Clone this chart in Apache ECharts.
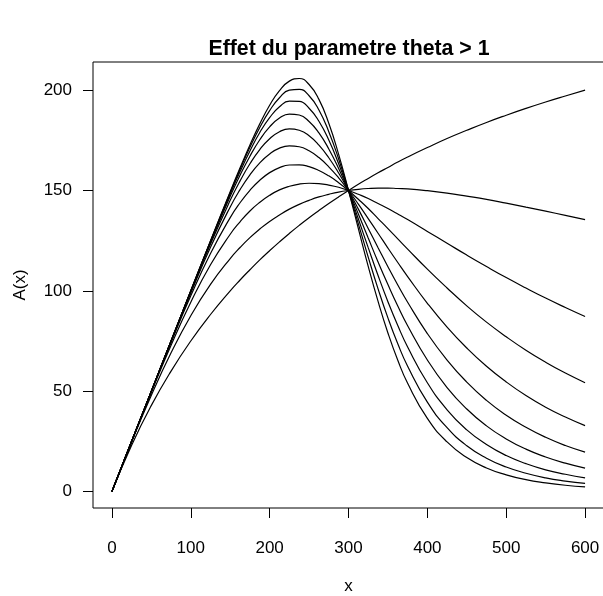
<!DOCTYPE html>
<html>
<head>
<meta charset="utf-8">
<script src="https://cdn.jsdelivr.net/npm/echarts@6/dist/echarts.min.js"></script>
<style>
  html, body { margin: 0; padding: 0; background: #fff; }
  #chart { width: 603px; height: 596px; }
</style>
</head>
<body>
<div id="chart"></div>
<script>
// Abscissa shared by every curve (denser around the peaks and the crossing point)
const xs = [0, 25, 50, 75, 100, 125, 150,
            162.5, 175, 187.5, 200, 212.5, 225, 237.5, 250, 262.5, 275, 287.5, 300,
            312.5, 325, 337.5, 350, 362.5, 375,
            400, 425, 450, 475, 500, 525, 550, 575, 600];

// A(x) for increasing theta (theta = 1 ... 8)
const curveTheta1 = [0, 23.1, 42.9, 60, 75, 88.2, 100,
                     105.4, 110.5, 115.4, 120, 124.4, 128.6, 132.6, 136.4, 140, 143.5, 146.8, 150,
                     153.1, 156, 158.8, 161.5, 164.2, 166.7,
                     171.4, 175.9, 180, 183.9, 187.5, 190.9, 194.1, 197.1, 200];
const curveTheta2 = [0, 24.7, 48, 69.1, 87.6, 103.2, 116.1,
                     121.6, 126.5, 130.8, 134.6, 137.8, 140.7, 143.1, 145.1, 146.8, 148.1, 149.2, 150,
                     150.6, 151, 151.2, 151.2, 151, 150.8,
                     149.9, 148.7, 147.2, 145.6, 143.7, 141.7, 139.7, 137.6, 135.5];
const curveTheta3 = [0, 25, 49.5, 72.9, 94.3, 113, 128.2,
                     134.4, 139.8, 144.1, 147.6, 150.3, 152.1, 153.2, 153.6, 153.4, 152.7, 151.6, 150,
                     148.1, 146, 143.5, 141, 138.3, 135.5,
                     129.6, 123.7, 117.8, 112.1, 106.6, 101.4, 96.4, 91.7, 87.2];
const curveTheta4 = [0, 25, 49.9, 74.3, 97.5, 118.6, 136.5,
                     143.9, 150.1, 155.1, 158.9, 161.4, 162.7, 162.8, 161.9, 160, 157.3, 153.9, 150,
                     145.6, 141, 136, 131, 125.9, 120.8,
                     110.8, 101.4, 92.5, 84.4, 77.1, 70.4, 64.4, 59, 54.2];
const curveTheta5 = [0, 25, 50, 74.8, 98.9, 121.7, 141.8,
                     150.4, 157.8, 163.8, 168.2, 171.1, 172.2, 171.8, 169.8, 166.4, 161.8, 156.3, 150,
                     143.2, 136, 128.7, 121.3, 114.1, 107.1,
                     93.8, 81.9, 71.5, 62.4, 54.6, 47.8, 42, 37.1, 32.8];
const curveTheta6 = [0, 25, 50, 74.9, 99.5, 123.3, 145.1,
                     154.8, 163.3, 170.4, 175.8, 179.3, 180.7, 180, 177.3, 172.6, 166.3, 158.7, 150,
                     140.7, 131.1, 121.5, 112, 102.9, 94.3,
                     78.7, 65.5, 54.5, 45.4, 38, 32, 27, 22.9, 19.6];
const curveTheta7 = [0, 25, 50, 75, 99.8, 124.1, 147.1,
                     157.6, 167.1, 175.3, 181.7, 186.1, 188.1, 187.6, 184.4, 178.7, 170.7, 161, 150,
                     138.3, 126.3, 114.4, 103.1, 92.4, 82.6,
                     65.5, 51.8, 41.1, 32.7, 26.2, 21.1, 17.2, 14.1, 11.6];
const curveTheta8 = [0, 25, 50, 75, 99.9, 124.6, 148.3,
                     159.4, 169.7, 178.9, 186.3, 191.7, 194.5, 194.4, 191, 184.5, 175.1, 163.3, 150,
                     135.8, 121.5, 107.6, 94.6, 82.7, 72,
                     54.2, 40.7, 30.7, 23.4, 17.9, 13.9, 10.8, 8.6, 6.8];
const curveTheta9 = [0, 25, 50, 75, 100, 124.8, 149,
                     160.6, 171.5, 181.4, 189.8, 196.2, 200, 200.4, 197.2, 190.1, 179.3, 165.7, 150,
                     133.4, 116.8, 101, 86.5, 73.6, 62.4,
                     44.5, 31.8, 22.8, 16.6, 12.2, 9.1, 6.8, 5.2, 4];
const curveTheta10 = [0, 25, 50, 75, 100, 124.9, 149.4,
                      161.3, 172.7, 183.2, 192.5, 199.8, 204.5, 205.8, 202.8, 195.4, 183.5, 168, 150,
                      131, 112.2, 94.7, 79, 65.4, 53.9,
                      36.4, 24.7, 16.9, 11.7, 8.3, 5.9, 4.3, 3.1, 2.3];

const curves = [curveTheta1, curveTheta2, curveTheta3, curveTheta4, curveTheta5,
                curveTheta6, curveTheta7, curveTheta8, curveTheta9, curveTheta10];

// Tick positions
const xTicks = [0, 100, 200, 300, 400, 500, 600];
const yTicks = [0, 50, 100, 150, 200];

const FONT = '"Liberation Sans", Arial, Helvetica, sans-serif';

const chart = echarts.init(document.getElementById('chart'), null, { renderer: 'canvas' });

chart.setOption({
  animation: false,
  backgroundColor: '#ffffff',
  title: {
    text: 'Effet du parametre theta > 1',
    left: 344,
    top: 34,
    textAlign: 'center',
    textStyle: { fontFamily: FONT, fontSize: 21.3, fontWeight: 'bold', color: '#000' }
  },
  grid: {
    left: 93, top: 62, width: 511, height: 446,
    outerBoundsMode: 'none',
    containLabel: false,
    show: true, borderColor: '#000', borderWidth: 1, backgroundColor: 'transparent'
  },
  xAxis: {
    type: 'value',
    min: -24, max: 624,
    name: 'x',
    nameLocation: 'middle',
    nameGap: 70,
    nameTextStyle: { fontFamily: FONT, fontSize: 17, color: '#000' },
    axisLine: { show: false, onZero: false },
    splitLine: { show: false },
    axisTick: { show: true, inside: false, length: 10, customValues: xTicks,
                lineStyle: { color: '#000', width: 1 } },
    axisLabel: { customValues: xTicks, margin: 32,
                 fontFamily: FONT, fontSize: 17, color: '#000' }
  },
  yAxis: {
    type: 'value',
    min: -8.23, max: 214.03,
    name: 'A(x)',
    nameLocation: 'middle',
    nameRotate: 90,
    nameGap: 64,
    nameTextStyle: { fontFamily: FONT, fontSize: 17, color: '#000' },
    axisLine: { show: false, onZero: false },
    splitLine: { show: false },
    axisTick: { show: true, inside: false, length: 10, customValues: yTicks,
                lineStyle: { color: '#000', width: 1 } },
    axisLabel: { customValues: yTicks, margin: 21,
                 fontFamily: FONT, fontSize: 17, color: '#000' }
  },
  series: curves.map((ys, idx) => ({
    name: 'theta' + (idx + 1),
    type: 'line',
    data: xs.map((x, i) => [x, ys[i]]),
    showSymbol: false,
    smooth: true,
    lineStyle: { color: '#000', width: 1.2 },
    emphasis: { disabled: true },
    z: 3
  }))
});
</script>
</body>
</html>
